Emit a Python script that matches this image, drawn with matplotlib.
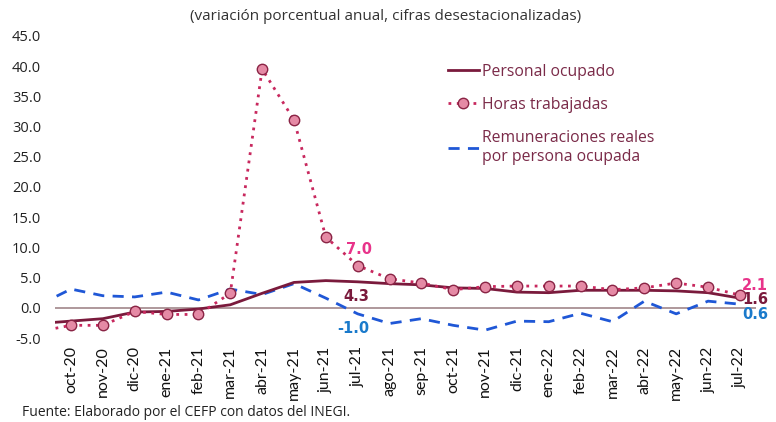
import matplotlib
matplotlib.use("Agg")
import matplotlib.pyplot as plt

plt.rcParams['font.family'] = ['Open Sans', 'DejaVu Sans']

# meses (sep-20 solo sirve para el tramo recortado a la izquierda)
meses = ['sep-20', 'oct-20', 'nov-20', 'dic-20', 'ene-21', 'feb-21', 'mar-21', 'abr-21',
         'may-21', 'jun-21', 'jul-21', 'ago-21', 'sep-21', 'oct-21', 'nov-21', 'dic-21',
         'ene-22', 'feb-22', 'mar-22', 'abr-22', 'may-22', 'jun-22', 'jul-22']

personal = [-2.6, -2.2, -1.8, -0.7, -0.6, -0.2, 0.5, 2.4, 4.2, 4.5, 4.3, 4.0, 3.8,
            3.3, 3.2, 2.6, 2.5, 2.9, 2.9, 2.9, 2.8, 2.5, 1.6]
horas = [-3.9, -2.9, -2.9, -0.6, -1.1, -1.1, 2.4, 39.5, 31.1, 11.7, 7.0, 4.8, 4.1,
         3.0, 3.5, 3.6, 3.6, 3.6, 3.0, 3.3, 4.1, 3.4, 2.1]
remuneraciones = [0.5, 3.1, 2.0, 1.8, 2.6, 1.3, 3.1, 2.2, 4.0, 1.6, -1.0, -2.6, -1.8,
                  -2.9, -3.7, -2.2, -2.3, -0.9, -2.3, 1.1, -1.0, 1.1, 0.6]

x = list(range(-1, len(meses) - 1))

fig = plt.figure(figsize=(7.76, 4.22), dpi=100)
ax = fig.add_axes([0.071, 0.199, 0.903, 0.716])

ax.axhline(0, color='#a89093', lw=1.3, zorder=1)

ax.plot(x, personal, color='#7a1a3c', lw=2, label='Personal ocupado', zorder=3)
ax.plot(x[1:], horas[1:], color='#c8285e', lw=2, ls=(0, (1, 2)), marker='o', ms=7.5,
        markerfacecolor='#e58aa5', markeredgecolor='#8a2445', markeredgewidth=1,
        label='Horas trabajadas', zorder=4)
ax.plot(x[:2], horas[:2], color='#c8285e', lw=2, ls=(0, (1, 2)), zorder=4)
ax.plot(x, remuneraciones, color='#1f57d6', lw=2, ls=(0, (4, 3)),
        label='Remuneraciones reales\npor persona ocupada', zorder=2)

ax.set_xlim(-0.5, len(meses) - 1.5)
ax.set_ylim(-5, 45)
ax.set_yticks(range(-5, 50, 5))
ax.set_yticklabels([f'{v:.1f}' for v in range(-5, 50, 5)], fontsize=10.5, color='#222222')
ax.set_xticks(x[1:])
ax.set_xticklabels(meses[1:], rotation=90, fontsize=11.5, color='#111111', family='Lato')
ax.tick_params(length=0)
ax.tick_params(axis='y', pad=10)
ax.tick_params(axis='x', pad=6)
for s in ax.spines.values():
    s.set_visible(False)

# etiquetas de datos
i_jul21 = meses.index('jul-21') - 1
i_fin = len(meses) - 2
etiq = dict(textcoords='offset pixels', ha='center', va='center', fontsize=10.5,
            fontweight='bold', family='DejaVu Sans')
ax.annotate('7.0', (i_jul21, horas[i_jul21 + 1]), xytext=(1, 16), color='#e8338a', **etiq)
ax.annotate('4.3', (i_jul21, personal[i_jul21 + 1]), xytext=(-1, -15), color='#7a1a3c', **etiq)
ax.annotate('-1.0', (i_jul21, remuneraciones[i_jul21 + 1]), xytext=(-4, -15), color='#1a7acb', **etiq)
ax.annotate('2.1', (i_fin, horas[-1]), xytext=(15, 10), color='#e8338a', **etiq)
ax.annotate('1.6', (i_fin, personal[-1]), xytext=(15, -1), color='#7a1a3c', **etiq)
ax.annotate('0.6', (i_fin, remuneraciones[-1]), xytext=(15, -10), color='#1a7acb', **etiq)

leg = ax.legend(loc='upper left', bbox_to_anchor=(0.54, 0.955), frameon=False, fontsize=11.3,
                handlelength=2.0, handletextpad=0.2, labelspacing=1.1, labelcolor='#7a2a48')

fig.text(0.497, 0.962, '(variación porcentual anual, cifras desestacionalizadas)', ha='center',
         va='center', fontsize=11, color='#333333')
fig.text(0.028, 0.022, 'Fuente: Elaborado por el CEFP con datos del INEGI.', ha='left',
         va='center', fontsize=10, color='#222222')

fig.savefig('out.png', dpi=100)
